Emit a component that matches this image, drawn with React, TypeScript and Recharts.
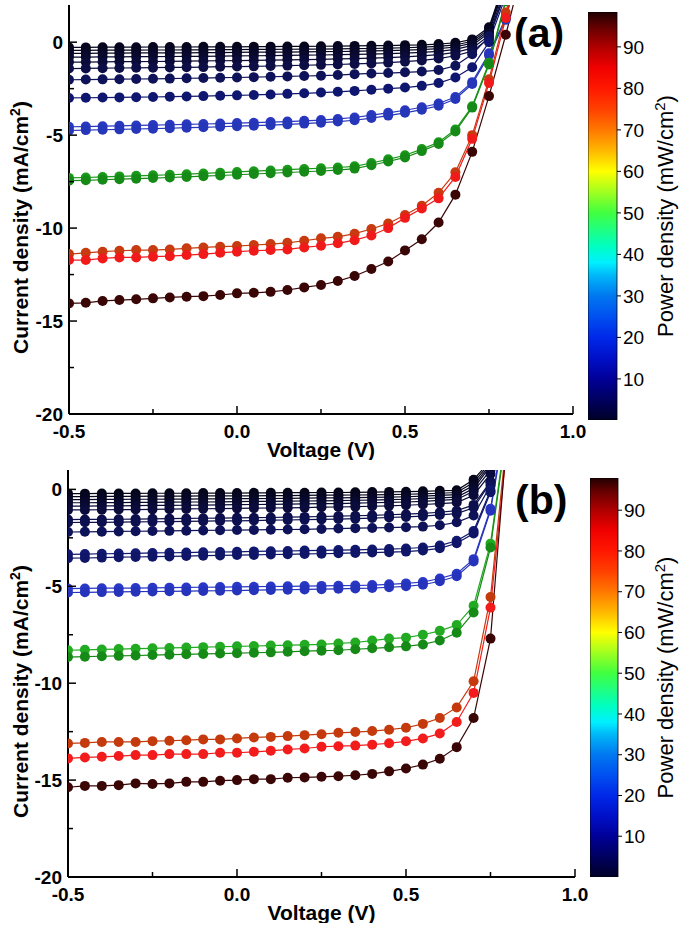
import { Bar, BarChart, Label, Line, LineChart, XAxis, YAxis } from 'recharts'

const FONT = '"Liberation Sans", Arial, sans-serif'

// bias voltage (V), shared by every J-V curve
const voltage = [-0.5, -0.45, -0.4, -0.35, -0.3, -0.25, -0.2, -0.15, -0.1, -0.05, 0, 0.05, 0.1, 0.15, 0.2, 0.25, 0.3, 0.35, 0.4, 0.45, 0.5, 0.55, 0.6, 0.65, 0.7, 0.75, 0.8, 0.85]

// panel (a) current density (mA/cm2), lowest power first
const a1 = [-0.28, -0.28, -0.27, -0.27, -0.27, -0.26, -0.26, -0.26, -0.25, -0.25, -0.25, -0.24, -0.24, -0.23, -0.23, -0.22, -0.21, -0.2, -0.19, -0.18, -0.16, -0.14, -0.1, -0.03, 0.15, 0.8, 3.5, 6]
const a2 = [-0.44, -0.44, -0.43, -0.43, -0.43, -0.42, -0.42, -0.41, -0.41, -0.4, -0.4, -0.39, -0.39, -0.38, -0.37, -0.37, -0.36, -0.35, -0.34, -0.32, -0.3, -0.27, -0.23, -0.15, 0.05, 0.7, 3.4, 6]
const a3 = [-0.6, -0.6, -0.59, -0.59, -0.58, -0.58, -0.57, -0.57, -0.56, -0.56, -0.55, -0.54, -0.54, -0.53, -0.52, -0.51, -0.5, -0.49, -0.47, -0.45, -0.43, -0.4, -0.35, -0.26, -0.05, 0.6, 3.3, 6]
const a4 = [-0.8, -0.8, -0.79, -0.79, -0.78, -0.78, -0.77, -0.76, -0.76, -0.75, -0.74, -0.73, -0.72, -0.71, -0.7, -0.69, -0.67, -0.66, -0.64, -0.62, -0.59, -0.55, -0.49, -0.39, -0.17, 0.5, 3.2, 6]
const a5 = [-1.07, -1.07, -1.06, -1.05, -1.05, -1.04, -1.03, -1.02, -1.01, -1.0, -0.99, -0.98, -0.97, -0.95, -0.94, -0.92, -0.9, -0.88, -0.86, -0.83, -0.79, -0.74, -0.67, -0.55, -0.32, 0.35, 3.0, 6]
const a6 = [-1.42, -1.41, -1.4, -1.39, -1.38, -1.37, -1.36, -1.35, -1.34, -1.32, -1.31, -1.3, -1.28, -1.26, -1.24, -1.22, -1.2, -1.17, -1.14, -1.1, -1.05, -0.98, -0.88, -0.73, -0.48, 0.2, 2.8, 6]
const a7 = [-2.02, -2.01, -2.0, -1.99, -1.98, -1.97, -1.96, -1.94, -1.93, -1.91, -1.9, -1.88, -1.86, -1.84, -1.82, -1.8, -1.77, -1.72, -1.68, -1.66, -1.62, -1.58, -1.5, -1.27, -0.65, 0.3, 2.7, 6]
const a8 = [-3.0, -2.99, -2.98, -2.97, -2.96, -2.95, -2.93, -2.92, -2.9, -2.88, -2.86, -2.84, -2.81, -2.78, -2.75, -2.71, -2.67, -2.62, -2.56, -2.5, -2.44, -2.35, -2.2, -1.9, -1.35, 0.0, 2.5, 6]
const a9 = [-4.55, -4.54, -4.52, -4.5, -4.48, -4.46, -4.44, -4.42, -4.4, -4.38, -4.35, -4.33, -4.3, -4.27, -4.23, -4.19, -4.13, -4.05, -3.92, -3.8, -3.66, -3.5, -3.3, -2.95, -2.15, -0.6, 1.3, 5]
const a10 = [-4.75, -4.73, -4.71, -4.69, -4.67, -4.65, -4.63, -4.6, -4.58, -4.55, -4.52, -4.49, -4.46, -4.42, -4.38, -4.33, -4.27, -4.2, -4.08, -3.95, -3.8, -3.63, -3.42, -3.06, -2.25, -0.7, 1.2, 5]
const a11 = [-7.3, -7.28, -7.25, -7.22, -7.19, -7.16, -7.13, -7.1, -7.06, -7.02, -6.98, -6.94, -6.9, -6.86, -6.82, -6.78, -6.74, -6.68, -6.5, -6.3, -6.08, -5.75, -5.38, -4.7, -3.45, -1.1, 2.3, 6]
const a12 = [-7.45, -7.43, -7.4, -7.37, -7.34, -7.31, -7.28, -7.25, -7.21, -7.17, -7.13, -7.09, -7.05, -7.01, -6.97, -6.93, -6.88, -6.8, -6.62, -6.42, -6.2, -5.86, -5.48, -4.8, -3.52, -1.2, 2.2, 6]
const a13 = [-11.4, -11.33, -11.27, -11.22, -11.18, -11.18, -11.15, -11.09, -11.04, -11.0, -10.97, -10.91, -10.86, -10.79, -10.68, -10.55, -10.47, -10.3, -10.05, -9.75, -9.3, -8.8, -8.1, -7.0, -5.0, -2.0, 1.6, 5]
const a14 = [-11.72, -11.72, -11.63, -11.58, -11.58, -11.54, -11.51, -11.45, -11.4, -11.33, -11.27, -11.22, -11.18, -11.15, -11.04, -10.95, -10.82, -10.65, -10.4, -10.0, -9.45, -8.95, -8.4, -7.25, -5.2, -2.2, 1.3, 5]
const a15 = [-14.05, -14.02, -13.92, -13.87, -13.83, -13.78, -13.73, -13.69, -13.66, -13.6, -13.51, -13.48, -13.43, -13.33, -13.19, -13.06, -12.85, -12.58, -12.2, -11.8, -11.2, -10.6, -9.7, -8.2, -5.9, -2.9, 0.4, 4]
const colorsA = ['#05051c', '#06061f', '#080826', '#09092e', '#0a0b38', '#0c0e45', '#0e1258', '#0f1670', '#2a38c0', '#2636b8', '#1a9a1a', '#168a16', '#c83a10', '#f01a1a', '#3a0505']

// panel (b)
const b1 = [-0.22, -0.22, -0.21, -0.21, -0.21, -0.2, -0.2, -0.2, -0.19, -0.19, -0.19, -0.18, -0.18, -0.17, -0.17, -0.16, -0.16, -0.15, -0.14, -0.13, -0.12, -0.1, -0.07, -0.05, 0.5, 1.5, 6, 10]
const b2 = [-0.37, -0.37, -0.36, -0.36, -0.36, -0.35, -0.35, -0.35, -0.34, -0.34, -0.33, -0.33, -0.32, -0.32, -0.31, -0.3, -0.3, -0.29, -0.28, -0.27, -0.25, -0.23, -0.2, -0.16, 0.35, 1.4, 6, 10]
const b3 = [-0.53, -0.53, -0.52, -0.52, -0.51, -0.51, -0.5, -0.5, -0.49, -0.49, -0.48, -0.48, -0.47, -0.46, -0.45, -0.44, -0.44, -0.43, -0.41, -0.4, -0.38, -0.35, -0.31, -0.27, 0.2, 1.3, 6, 10]
const b4 = [-0.69, -0.69, -0.68, -0.68, -0.67, -0.67, -0.66, -0.65, -0.65, -0.64, -0.63, -0.62, -0.62, -0.61, -0.6, -0.59, -0.58, -0.56, -0.55, -0.53, -0.51, -0.48, -0.44, -0.4, 0.05, 1.2, 6, 10]
const b5 = [-0.86, -0.86, -0.85, -0.85, -0.84, -0.83, -0.83, -0.82, -0.81, -0.8, -0.79, -0.78, -0.77, -0.76, -0.75, -0.74, -0.73, -0.71, -0.69, -0.67, -0.65, -0.62, -0.57, -0.52, -0.1, 1.0, 5.8, 10]
const b6 = [-1.06, -1.06, -1.05, -1.04, -1.04, -1.03, -1.02, -1.01, -1.0, -0.99, -0.98, -0.97, -0.96, -0.95, -0.94, -0.92, -0.91, -0.89, -0.87, -0.85, -0.82, -0.78, -0.73, -0.68, -0.3, 0.8, 5.6, 10]
const b7 = [-1.56, -1.55, -1.55, -1.54, -1.53, -1.52, -1.51, -1.5, -1.49, -1.48, -1.47, -1.46, -1.45, -1.43, -1.42, -1.4, -1.38, -1.36, -1.34, -1.31, -1.28, -1.24, -1.18, -1.1, -0.8, 0.4, 5.4, 10]
const b8 = [-1.71, -1.7, -1.7, -1.69, -1.68, -1.67, -1.66, -1.65, -1.64, -1.63, -1.62, -1.61, -1.59, -1.58, -1.56, -1.55, -1.53, -1.51, -1.48, -1.45, -1.42, -1.38, -1.32, -1.25, -0.95, 0.35, 5.3, 10]
const b9 = [-2.2, -2.19, -2.18, -2.17, -2.16, -2.15, -2.14, -2.13, -2.12, -2.11, -2.1, -2.09, -2.08, -2.07, -2.06, -2.04, -2.02, -2.0, -1.99, -1.97, -1.95, -1.92, -1.85, -1.7, -1.35, 0.2, 5.2, 10]
const b10 = [-3.35, -3.34, -3.32, -3.31, -3.3, -3.28, -3.27, -3.26, -3.24, -3.23, -3.22, -3.2, -3.19, -3.18, -3.16, -3.15, -3.13, -3.12, -3.1, -3.08, -3.05, -3.0, -2.9, -2.65, -2.15, -0.05, 5, 10]
const b11 = [-3.55, -3.54, -3.52, -3.5, -3.49, -3.47, -3.46, -3.44, -3.42, -3.41, -3.39, -3.38, -3.36, -3.35, -3.33, -3.32, -3.3, -3.28, -3.26, -3.24, -3.21, -3.15, -3.04, -2.78, -2.28, -0.15, 4.8, 10]
const b12 = [-5.12, -5.11, -5.1, -5.1, -5.09, -5.08, -5.07, -5.06, -5.05, -5.04, -5.03, -5.02, -5.01, -5.0, -4.99, -4.98, -4.97, -4.96, -4.94, -4.9, -4.85, -4.78, -4.6, -4.35, -3.6, -1.0, 4.2, 10]
const b13 = [-5.32, -5.31, -5.3, -5.29, -5.28, -5.27, -5.26, -5.25, -5.24, -5.23, -5.22, -5.2, -5.19, -5.18, -5.16, -5.15, -5.13, -5.11, -5.09, -5.05, -5.0, -4.92, -4.74, -4.48, -3.72, -1.1, 4.0, 10]
const b14 = [-8.3, -8.28, -8.26, -8.24, -8.22, -8.2, -8.18, -8.16, -8.14, -8.12, -8.1, -8.08, -8.06, -8.04, -8.02, -8.0, -7.95, -7.9, -7.8, -7.7, -7.65, -7.5, -7.3, -7.0, -6.0, -2.8, 3.5, 10]
const b15 = [-8.65, -8.63, -8.61, -8.59, -8.57, -8.55, -8.53, -8.51, -8.49, -8.47, -8.45, -8.43, -8.41, -8.38, -8.35, -8.32, -8.3, -8.25, -8.2, -8.15, -8.1, -8.0, -7.8, -7.4, -6.35, -3.0, 3.3, 10]
const b16 = [-13.11, -13.08, -13.03, -13.03, -13.03, -12.99, -12.97, -12.94, -12.9, -12.9, -12.85, -12.8, -12.77, -12.73, -12.68, -12.63, -12.56, -12.52, -12.47, -12.4, -12.3, -12.1, -11.8, -11.25, -9.9, -5.55, 3, 10]
const b17 = [-13.88, -13.83, -13.8, -13.76, -13.71, -13.71, -13.66, -13.66, -13.66, -13.59, -13.59, -13.54, -13.49, -13.42, -13.37, -13.28, -13.25, -13.22, -13.17, -13.1, -13.0, -12.85, -12.6, -12.0, -10.5, -6.1, 2.5, 10]
const b18 = [-15.37, -15.3, -15.3, -15.26, -15.17, -15.2, -15.17, -15.09, -15.09, -15.03, -15.0, -14.95, -14.95, -14.88, -14.86, -14.83, -14.8, -14.75, -14.68, -14.55, -14.4, -14.2, -13.9, -13.3, -11.8, -7.7, 3.0, 10]
const colorsB = ['#05051a', '#06061e', '#070724', '#08082b', '#090a33', '#0b0c3c', '#0c0f4a', '#0d104e', '#0e1258', '#101870', '#0f1668', '#2a38c8', '#2634bc', '#22aa22', '#168a16', '#c43a0c', '#f21c1c', '#3a0505']

// axes
const xTicks = [-0.5, -0.25, 0, 0.25, 0.5, 0.75, 1.0]
const yTicks = [-20, -17.5, -15, -12.5, -10, -7.5, -5, -2.5, 0]
const cbTicks = [10, 20, 30, 40, 50, 60, 70, 80, 90]

// colour bar map (power density -> colour), top of the bar first
const cmapValues = [98.4, 95, 90, 85, 80, 75, 70, 65, 60, 55, 50, 46, 42, 38, 35, 30, 25, 20, 15, 10, 5, 0]
const cmapColors = ['#200000', '#600000', '#b00000', '#f00000', '#ff1800', '#ff4000', '#ff7800', '#ffb800', '#ffff00', '#a0ff20', '#40ff40', '#20ff80', '#00ffc0', '#00f0ff', '#00b8f8', '#0078f0', '#0050f0', '#0028e8', '#0010c8', '#000098', '#000060', '#000028']

const buildRows = (curves: number[][]) =>
  voltage.map((v, i) => {
    const row: Record<string, number> = { v }
    curves.forEach((c, k) => {
      row['c' + k] = c[i]
    })
    return row
  })

type Layout = {
  top: number
  plotLeft: number
  plotRight: number
  plotTop: number
  plotBottom: number
  yMax: number
  cbLeft: number
  cbRight: number
  cbTop: number
  cbBottom: number
  cbRange: [number, number]
  tagLeft: number
  tagTop: number
}

function Panel({ id, tag, curves, colors, L }: { id: string; tag: string; curves: number[][]; colors: string[]; L: Layout }) {
  const rows = buildRows(curves)
  const chartW = 600
  const xAxisH = 46
  const chartH = L.plotBottom + xAxisH
  const yMid = (L.plotTop + L.plotBottom) / 2 + 18
  const cbW = 680 - L.cbLeft
  const cbH = L.cbBottom + 10
  const [cbMin, cbMax] = L.cbRange
  const cbMid = (L.cbTop + L.cbBottom) / 2
  const frame = { stroke: '#000', strokeWidth: 2 }

  const xTick = (p: any) => {
    const v = p.payload.value
    const major = Math.abs(v * 2 - Math.round(v * 2)) < 1e-6
    return (
      <g>
        <line x1={p.x} x2={p.x} y1={L.plotBottom} y2={L.plotBottom - (major ? 8 : 5)} stroke="#000" strokeWidth={1.5} />
        {major && (
          <text x={p.x} y={L.plotBottom + 24} textAnchor="middle" fontFamily={FONT} fontWeight="bold" fontSize={19} fill="#000">
            {v.toFixed(1)}
          </text>
        )}
      </g>
    )
  }

  const yTick = (p: any) => {
    const v = p.payload.value
    const major = v % 5 === 0
    return (
      <g>
        <line x1={L.plotLeft} x2={L.plotLeft + (major ? 8 : 5)} y1={p.y} y2={p.y} stroke="#000" strokeWidth={1.5} />
        {major && (
          <text x={L.plotLeft - 6} y={p.y} dy="0.36em" textAnchor="end" fontFamily={FONT} fontWeight="bold" fontSize={19} fill="#000">
            {String(v)}
          </text>
        )}
      </g>
    )
  }

  return (
    <div style={{ position: 'absolute', left: 0, top: L.top, width: 680, height: chartH }}>
      <div style={{ position: 'absolute', left: 0, top: 0 }}>
        <LineChart width={chartW} height={chartH} data={rows} margin={{ top: L.plotTop, right: chartW - L.plotRight, bottom: 0, left: 0 }}>
          <XAxis
            dataKey="v"
            type="number"
            domain={[-0.5, 1.0]}
            ticks={xTicks}
            interval={0}
            allowDataOverflow
            height={xAxisH}
            axisLine={frame}
            tickLine={false}
            tick={xTick}
          >
            <Label
              content={() => (
                <text x={(L.plotLeft + L.plotRight) / 2} y={L.plotBottom + 43} textAnchor="middle" fontFamily={FONT} fontWeight="bold" fontSize={21} fill="#000">
                  Voltage (V)
                </text>
              )}
            />
          </XAxis>
          <XAxis xAxisId="top" orientation="top" type="number" domain={[-0.5, 1.0]} allowDataOverflow height={0} tick={false} tickLine={false} axisLine={frame} />
          <YAxis
            type="number"
            domain={[-20, L.yMax]}
            ticks={yTicks}
            interval={0}
            allowDataOverflow
            width={L.plotLeft}
            axisLine={frame}
            tickLine={false}
            tick={yTick}
          >
            <Label
              content={() => (
                <text x={28} y={yMid} transform={`rotate(-90 28 ${yMid})`} textAnchor="middle" fontFamily={FONT} fontWeight="bold" fontSize={21} fill="#000">
                  Current density (mA/cm<tspan dy={-8} fontSize={14}>2</tspan>
                  <tspan dy={8}>)</tspan>
                </text>
              )}
            />
          </YAxis>
          <YAxis yAxisId="right" orientation="right" domain={[-20, L.yMax]} allowDataOverflow width={0} tick={false} tickLine={false} axisLine={frame} />
          {curves.map((_, k) => (
            <Line
              key={k}
              type="linear"
              dataKey={'c' + k}
              stroke={colors[k]}
              strokeWidth={1.2}
              dot={{ r: 5, fill: colors[k], stroke: colors[k], strokeWidth: 0 }}
              activeDot={false}
              isAnimationActive={false}
            />
          ))}
        </LineChart>
      </div>

      <div style={{ position: 'absolute', left: L.cbLeft, top: 0 }}>
        <BarChart
          width={cbW}
          height={cbH}
          data={[{ name: 'cb', range: [cbMin, cbMax] }]}
          margin={{ top: L.cbTop, right: 0, bottom: 10, left: 0 }}
          barCategoryGap={0}
          barGap={0}
        >
          <defs>
            <linearGradient id={'cbGrad' + id} x1="0" y1="0" x2="0" y2="1">
              {cmapValues.map((v, i) => (
                <stop key={i} offset={Math.min(1, Math.max(0, (cbMax - v) / (cbMax - cbMin)))} stopColor={cmapColors[i]} />
              ))}
            </linearGradient>
          </defs>
          <XAxis dataKey="name" hide />
          <YAxis
            orientation="right"
            type="number"
            domain={[cbMin, cbMax]}
            ticks={cbTicks}
            interval={0}
            allowDataOverflow
            width={cbW - (L.cbRight - L.cbLeft)}
            axisLine={false}
            tickLine={{ stroke: '#000', strokeWidth: 1 }}
            tickSize={4}
            tickMargin={2}
            tick={{ fill: '#000', fontSize: 19, fontFamily: FONT }}
          >
            <Label
              content={() => {
                const bx = 673 - L.cbLeft
                return (
                  <text x={bx} y={cbMid} transform={`rotate(-90 ${bx} ${cbMid})`} textAnchor="middle" fontFamily={FONT} fontSize={22} fill="#000">
                    Power density (mW/cm<tspan dy={-8} fontSize={15}>2</tspan>
                    <tspan dy={8}>)</tspan>
                  </text>
                )
              }}
            />
          </YAxis>
          <Bar dataKey="range" fill={`url(#cbGrad${id})`} stroke="#000" strokeWidth={0.8} isAnimationActive={false} />
        </BarChart>
      </div>

      <div
        style={{
          position: 'absolute',
          left: L.tagLeft,
          top: L.tagTop,
          fontFamily: FONT,
          fontWeight: 'bold',
          fontSize: 41,
          lineHeight: '41px',
          color: '#000',
        }}
      >
        {tag}
      </div>
    </div>
  )
}

const layoutA: Layout = {
  top: 0,
  plotLeft: 69,
  plotRight: 573,
  plotTop: 5,
  plotBottom: 414,
  yMax: 2,
  cbLeft: 588,
  cbRight: 617,
  cbTop: 12,
  cbBottom: 420,
  cbRange: [0.1, 98.4],
  tagLeft: 514,
  tagTop: 13,
}

const layoutB: Layout = {
  top: 465,
  plotLeft: 68,
  plotRight: 575,
  plotTop: 5,
  plotBottom: 412,
  yMax: 1,
  cbLeft: 590,
  cbRight: 618,
  cbTop: 13,
  cbBottom: 412,
  cbRange: [0, 97.9],
  tagLeft: 515,
  tagTop: 15,
}

export default function App() {
  return (
    <div style={{ position: 'absolute', left: 0, top: 0, width: 680, height: 929, background: '#fff', overflow: 'hidden' }}>
      <Panel id="A" tag="(a)" curves={[a1, a2, a3, a4, a5, a6, a7, a8, a9, a10, a11, a12, a13, a14, a15]} colors={colorsA} L={layoutA} />
      <Panel id="B" tag="(b)" curves={[b1, b2, b3, b4, b5, b6, b7, b8, b9, b10, b11, b12, b13, b14, b15, b16, b17, b18]} colors={colorsB} L={layoutB} />
    </div>
  )
}
